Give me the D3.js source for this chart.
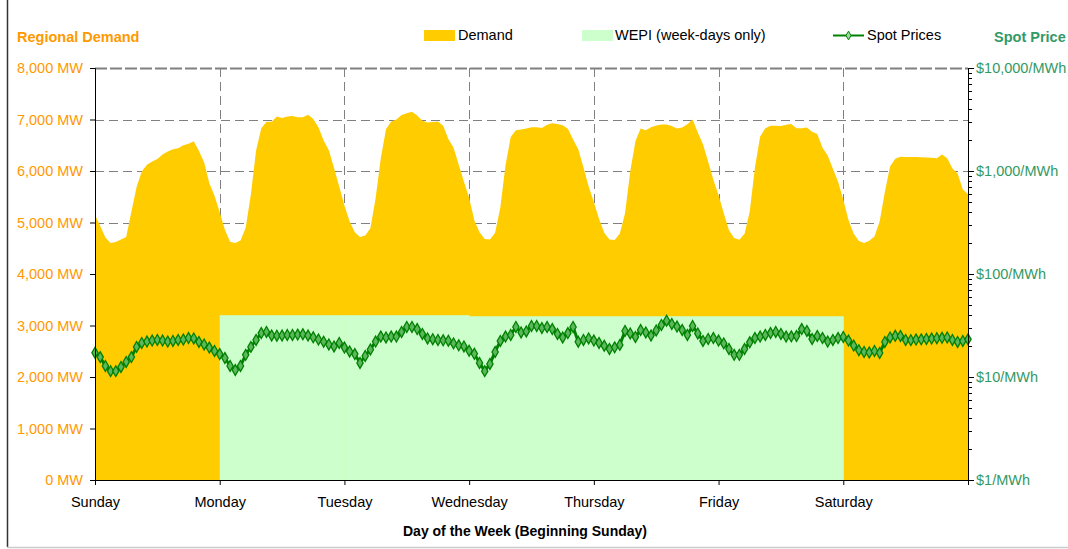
<!DOCTYPE html>
<html>
<head>
<meta charset="utf-8">
<script src="https://cdn.jsdelivr.net/npm/d3@7"></script>
<style>
  html, body { margin: 0; padding: 0; background: #fff; }
  svg { display: block; font-family: Arial, "Liberation Sans", sans-serif; }
</style>
</head>
<body>
<svg id="chart" width="1068" height="549"></svg>
<script>
// ---------- DATA ----------
const days = ["Sunday", "Monday", "Tuesday", "Wednesday", "Thursday", "Friday", "Saturday"];

// Hourly regional demand (MW), hour 0 = Sunday 00:00 ... hour 168 = end of Saturday
const demand = [
  5150, 4930, 4710, 4600, 4620, 4670, 4720, 5210, 5690, 5990, 6120, 6185, 6235, 6320, 6380, 6420, 6440, 6500, 6530, 6580, 6390, 6170, 5760, 5520,
  5200, 4860, 4625, 4600, 4650, 4900, 5550, 6400, 6830, 6957, 6957, 7060, 7030, 7060, 7070, 7042, 7042, 7090, 7010, 6850, 6590, 6405, 6060, 5700,
  5330, 5020, 4810, 4720, 4750, 4890, 5470, 6250, 6810, 6960, 7000, 7085, 7120, 7150, 7080, 6975, 6940, 6950, 6960, 6880, 6620, 6450, 6120, 5790,
  5480, 5040, 4810, 4680, 4670, 4800, 5290, 6110, 6660, 6790, 6805, 6825, 6850, 6850, 6835, 6900, 6925, 6915, 6890, 6820, 6610, 6421, 6070, 5700,
  5400, 5070, 4800, 4670, 4660, 4785, 5178, 5990, 6580, 6825, 6790, 6850, 6885, 6905, 6905, 6875, 6825, 6845, 6910, 7000, 6750, 6520, 6180, 5830,
  5530, 5180, 4850, 4700, 4665, 4780, 5215, 6070, 6670, 6830, 6880, 6880, 6875, 6900, 6913, 6830, 6830, 6845, 6760, 6720, 6450, 6300, 6045, 5790,
  5440, 5050, 4780, 4640, 4600, 4645, 4730, 5020, 5590, 6085, 6240, 6275, 6270, 6270, 6270, 6265, 6260, 6255, 6250, 6320, 6250, 6050, 5950, 5640,
  5550
];

// WEPI (week-days only), MW level per day (null = not shown)
const wepi = [null, 3200, 3200, 3180, 3180, 3180, null];

// Hourly spot prices ($/MWh)
const spotPrices = [
  17.2, 15.6, 12.8, 11.4, 11.4, 12.5, 14.0, 15.6, 19.6, 21.4, 22.1, 22.6, 22.9, 22.6, 22.1, 22.4, 22.9, 23.1, 23.9, 23.7, 21.9, 20.7, 19.3, 17.9,
  16.7, 15.3, 12.8, 11.7, 12.8, 16.4, 19.6, 22.9, 26.7, 27.4, 25.3, 25.2, 25.3, 25.6, 25.6, 25.8, 26.0, 25.3, 24.3, 23.1, 22.0, 20.7, 19.8, 21.4,
  19.3, 17.7, 16.7, 13.7, 16.0, 18.5, 22.1, 24.7, 24.2, 24.7, 24.7, 27.4, 30.6, 30.6, 29.2, 26.2, 23.7, 23.3, 22.9, 22.7, 22.5, 21.2, 20.3, 19.8,
  18.0, 16.8, 13.7, 11.4, 13.4, 17.5, 22.4, 24.7, 25.6, 30.6, 27.1, 27.7, 31.3, 31.3, 29.9, 30.6, 29.2, 26.2, 24.2, 26.7, 30.6, 22.0, 22.9, 23.7,
  22.6, 21.4, 20.1, 18.7, 19.4, 20.5, 28.0, 26.5, 24.5, 28.6, 27.1, 25.3, 28.3, 32.0, 35.2, 32.7, 30.9, 28.6, 25.6, 31.3, 26.5, 22.4, 23.4, 23.9,
  22.6, 21.2, 18.7, 16.4, 16.4, 18.7, 21.7, 23.9, 24.7, 25.6, 26.7, 27.4, 26.2, 24.7, 24.8, 25.0, 29.2, 28.0, 23.4, 25.0, 23.9, 22.1, 22.9, 23.9,
  24.5, 22.6, 20.2, 18.2, 17.5, 17.3, 17.9, 17.1, 21.9, 24.2, 25.1, 25.0, 22.9, 22.8, 23.1, 23.2, 23.4, 23.6, 23.8, 24.0, 24.2, 22.9, 21.9, 22.4,
  23.2
];

const demandTicks = [0, 1000, 2000, 3000, 4000, 5000, 6000, 7000, 8000];
const priceTicks = [1, 10, 100, 1000, 10000];
const priceTickLabels = ["$1/MWh", "$10/MWh", "$100/MWh", "$1,000/MWh", "$10,000/MWh"];

// ---------- STYLE ----------
const ORANGE = "#FF9900";
const SEA = "#339966";
const YELLOW = "#FFCC00";
const LIGHTGREEN = "#CCFFCC";
const GREEN = "#008000";
const MARKFILL = "#5cb85c";

const svg = d3.select("#chart");
const L = 95, R = 968, T = 68, B = 480;

const x = d3.scaleLinear().domain([0, 168]).range([L, R]);
const yL = d3.scaleLinear().domain([0, 8000]).range([B, T]);
const yR = d3.scaleLog().domain([1, 10000]).range([B, T]);

// frame lines
svg.append("line").attr("x1", 7.5).attr("x2", 7.5).attr("y1", 0).attr("y2", 547)
  .attr("stroke", "#333").attr("stroke-width", 1.5);
svg.append("line").attr("x1", 7).attr("x2", 1068).attr("y1", 547.5).attr("y2", 547.5)
  .attr("stroke", "#ccc").attr("stroke-width", 1.5);

// grid
const grid = svg.append("g");
grid.selectAll("line.h").data(demandTicks.filter(d => d > 0)).join("line")
  .attr("x1", L).attr("x2", R)
  .attr("y1", d => Math.round(yL(d)) + 0.5).attr("y2", d => Math.round(yL(d)) + 0.5)
  .attr("stroke", "#808080").attr("stroke-width", d => d === 8000 ? 2 : 1)
  .attr("stroke-dasharray", d => d === 8000 ? "12,3" : "9,5");
grid.selectAll("line.v").data(d3.range(1, 7)).join("line")
  .attr("x1", d => Math.round(x(d * 24)) + 0.5).attr("x2", d => Math.round(x(d * 24)) + 0.5)
  .attr("y1", T).attr("y2", B)
  .attr("stroke", "#808080").attr("stroke-width", 1).attr("stroke-dasharray", "9,5");

// demand area
const area = d3.area().x((d, i) => x(i)).y0(yL(0)).y1(d => yL(d));
svg.append("path").datum(demand).attr("d", area).attr("fill", YELLOW);

// WEPI
svg.append("g").selectAll("rect").data(wepi.map((v, i) => ({ v, i })).filter(d => d.v !== null)).join("rect")
  .attr("x", d => x(d.i * 24)).attr("width", d => x((d.i + 1) * 24) - x(d.i * 24) + 0.5)
  .attr("y", d => yL(d.v)).attr("height", d => yL(0) - yL(d.v))
  .attr("fill", LIGHTGREEN);

// spot prices line
const line = d3.line().x((d, i) => x(i)).y(d => yR(d));
svg.append("path").datum(spotPrices).attr("d", line)
  .attr("fill", "none").attr("stroke", GREEN).attr("stroke-width", 3);
const diamond = d3.symbol().type(d3.symbolDiamond).size(34);
svg.append("g").selectAll("path").data(spotPrices).join("path")
  .attr("d", diamond)
  .attr("transform", (d, i) => `translate(${x(i)},${yR(d)})`)
  .attr("fill", MARKFILL).attr("stroke", GREEN).attr("stroke-width", 1.3);

// left axis
const axL = svg.append("g").attr("transform", `translate(${L},0)`)
  .call(d3.axisLeft(yL).tickValues(demandTicks).tickFormat(d => d3.format(",")(d) + " MW").tickSize(5).tickPadding(7));
axL.select(".domain").attr("stroke", "#000");
axL.selectAll("text").attr("fill", ORANGE).attr("font-size", "14.5px").attr("font-family", "Arial, 'Liberation Sans', sans-serif");

// right axis
const axR = svg.append("g").attr("transform", `translate(${R},0)`)
  .call(d3.axisRight(yR).tickValues(priceTicks).tickFormat((d, i) => priceTickLabels[i]).tickSize(6).tickPadding(2));
axR.select(".domain").attr("stroke", "#000");
axR.selectAll("text").attr("fill", SEA).attr("font-size", "14.5px").attr("font-family", "Arial, 'Liberation Sans', sans-serif");
const minor = [];
for (let dec = 1; dec < 10000; dec *= 10) for (let k = 2; k <= 9; k++) minor.push(dec * k);
svg.append("g").selectAll("line").data(minor).join("line")
  .attr("x1", R).attr("x2", R + 4)
  .attr("y1", d => Math.round(yR(d)) + 0.5).attr("y2", d => Math.round(yR(d)) + 0.5)
  .attr("stroke", "#000");

// bottom axis
const axB = svg.append("g").attr("transform", `translate(0,${B})`)
  .call(d3.axisBottom(x).tickValues(d3.range(0, 169, 24)).tickFormat(d => days[d / 24] || "").tickSize(5).tickPadding(12));
axB.select(".domain").attr("stroke", "#000");
axB.selectAll("text").attr("fill", "#000").attr("font-size", "14.5px").attr("font-family", "Arial, 'Liberation Sans', sans-serif");

// titles
svg.append("text").attr("x", 17).attr("y", 42).text("Regional Demand")
  .attr("fill", ORANGE).attr("font-weight", "bold").attr("font-size", "14.5px");
svg.append("text").attr("x", 994).attr("y", 42).text("Spot Price")
  .attr("fill", SEA).attr("font-weight", "bold").attr("font-size", "14.5px");
svg.append("text").attr("x", 525).attr("y", 536).attr("text-anchor", "middle")
  .text("Day of the Week (Beginning Sunday)")
  .attr("fill", "#000").attr("font-weight", "bold").attr("font-size", "14px");

// legend
const lg = svg.append("g");
lg.append("rect").attr("x", 424).attr("y", 30).attr("width", 31).attr("height", 11).attr("fill", YELLOW);
lg.append("text").attr("x", 458).attr("y", 40).text("Demand").attr("font-size", "14.5px").attr("fill", "#000");
lg.append("rect").attr("x", 582).attr("y", 30).attr("width", 31).attr("height", 11).attr("fill", LIGHTGREEN);
lg.append("text").attr("x", 615).attr("y", 40).text("WEPI (week-days only)").attr("font-size", "14.5px").attr("fill", "#000");
lg.append("line").attr("x1", 833).attr("x2", 864).attr("y1", 35.5).attr("y2", 35.5).attr("stroke", GREEN).attr("stroke-width", 2);
lg.append("path").attr("d", d3.symbol().type(d3.symbolDiamond).size(22)).attr("transform", "translate(848.5,35.5)")
  .attr("fill", "#9fd89f").attr("stroke", GREEN).attr("stroke-width", 1);
lg.append("text").attr("x", 867).attr("y", 40).text("Spot Prices").attr("font-size", "14.5px").attr("fill", "#000");
</script>
</body>
</html>
